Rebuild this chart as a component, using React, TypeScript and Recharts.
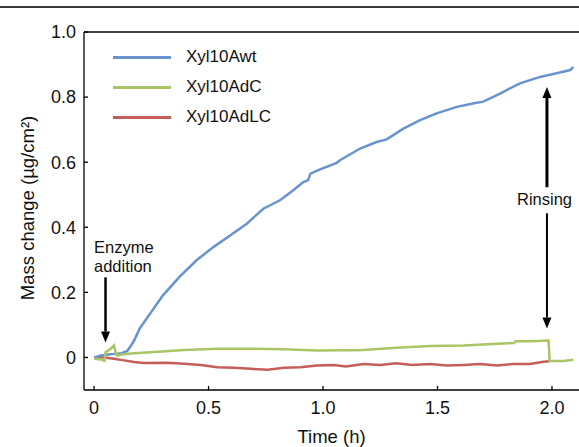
import { LineChart, Line, XAxis, YAxis, ReferenceLine, Legend } from "recharts";

// Xyl10Awt (blue)
const wtTime = [0, 0.03, 0.06, 0.09, 0.12, 0.145, 0.16, 0.175, 0.2, 0.25, 0.3, 0.376, 0.45, 0.521, 0.594, 0.667, 0.739, 0.812, 0.87, 0.914, 0.935, 0.945, 0.987, 1.06, 1.074, 1.162, 1.234, 1.278, 1.351, 1.424, 1.496, 1.584, 1.66, 1.7, 1.773, 1.86, 1.948, 2.02, 2.08, 2.093];
const wtMass = [0, 0.006, 0.009, 0.011, 0.013, 0.02, 0.035, 0.052, 0.09, 0.14, 0.19, 0.25, 0.3, 0.339, 0.375, 0.411, 0.457, 0.483, 0.514, 0.539, 0.545, 0.565, 0.578, 0.598, 0.606, 0.642, 0.662, 0.67, 0.703, 0.729, 0.75, 0.77, 0.781, 0.786, 0.811, 0.842, 0.862, 0.873, 0.883, 0.893];

// Xyl10AdC (green)
const dcTime = [0, 0.03, 0.045, 0.05, 0.073, 0.087, 0.094, 0.1, 0.128, 0.175, 0.247, 0.393, 0.539, 0.685, 0.83, 0.975, 1.1, 1.176, 1.32, 1.467, 1.613, 1.76, 1.835, 1.84, 1.91, 1.985, 1.99, 2.05, 2.093];
const dcMass = [-0.004, -0.006, -0.01, 0.016, 0.027, 0.037, 0.016, 0.006, 0.01, 0.013, 0.016, 0.023, 0.027, 0.027, 0.025, 0.021, 0.022, 0.023, 0.03, 0.035, 0.037, 0.042, 0.044, 0.05, 0.05, 0.052, -0.011, -0.011, -0.007];

// Xyl10AdLC (red)
const dlcTime = [0, 0.044, 0.087, 0.131, 0.175, 0.218, 0.32, 0.393, 0.466, 0.539, 0.61, 0.685, 0.757, 0.83, 0.9, 0.975, 1.047, 1.1, 1.176, 1.25, 1.32, 1.39, 1.467, 1.54, 1.613, 1.686, 1.76, 1.83, 1.905, 1.962, 1.99];
const dlcMass = [0, 0, -0.004, -0.009, -0.014, -0.017, -0.016, -0.019, -0.023, -0.03, -0.032, -0.035, -0.038, -0.032, -0.03, -0.025, -0.023, -0.028, -0.02, -0.023, -0.018, -0.023, -0.02, -0.025, -0.023, -0.02, -0.025, -0.02, -0.02, -0.013, -0.012];

const xTicks = [0, 0.5, 1.0, 1.5, 2.0];
const yTicks = [0, 0.2, 0.4, 0.6, 0.8, 1.0];

// annotation arrows (data coords)
const enzymeAt = 0.05;
const rinseAt = 1.978;

const FONT = "'Liberation Sans', Arial, Helvetica, sans-serif";

const toPoints = (ts: number[], vs: number[]) => ts.map((t, i) => ({ t, v: vs[i] }));

const series = [
  { name: "Xyl10Awt", color: "#6893cf", data: toPoints(wtTime, wtMass) },
  { name: "Xyl10AdC", color: "#a9c565", data: toPoints(dcTime, dcMass) },
  { name: "Xyl10AdLC", color: "#c65e58", data: toPoints(dlcTime, dlcMass) },
];

const fmt = (v: number) => (v === 0 ? "0" : v.toFixed(1));

function arrow(width: number) {
  return (p: any) => {
    const { x1, y1, x2, y2 } = p;
    const dir = y2 > y1 ? 1 : -1;
    const head = 11;
    const half = 4.5;
    return (
      <g>
        <line x1={x1} y1={y1} x2={x2} y2={y2 - dir * head} stroke="#000" strokeWidth={width} />
        <polygon
          points={`${x2},${y2} ${x2 - half},${y2 - dir * head} ${x2 + half},${y2 - dir * head}`}
          fill="#000"
        />
      </g>
    );
  };
}

function LegendBox() {
  return (
    <div style={{ fontFamily: FONT, fontSize: 17, color: "#111" }}>
      {series.map((s) => (
        <div key={s.name} style={{ display: "flex", alignItems: "center", height: 30 }}>
          <span style={{ display: "inline-block", width: 58, height: 3, background: s.color, marginRight: 15 }} />
          <span>{s.name}</span>
        </div>
      ))}
    </div>
  );
}

export default function App() {
  const [wt, dc, dlc] = series;
  return (
    <div style={{ position: "absolute", left: 0, top: 0, width: 579, height: 447, background: "#fff", fontFamily: FONT }}>
      <div style={{ position: "absolute", left: 0, top: 6, width: 579, height: 2, background: "#3a3a3a" }} />
      <LineChart width={579} height={447} margin={{ top: 32, right: 0, bottom: 0, left: 0 }}>
        <XAxis
          dataKey="t"
          type="number"
          domain={[-0.044, 2.118]}
          ticks={xTicks}
          tickFormatter={fmt}
          height={57}
          tickSize={-4}
          tickMargin={15}
          stroke="#000"
          strokeWidth={1.3}
          tick={{ fontSize: 18, fill: "#111", fontFamily: FONT }}
          allowDataOverflow
          label={(p: any) => (
            <text
              x={p.viewBox.x + p.viewBox.width / 2}
              y={443}
              textAnchor="middle"
              fontSize={18.5}
              fill="#111"
              fontFamily={FONT}
            >
              Time (h)
            </text>
          )}
        />
        <YAxis
          type="number"
          domain={[-0.1, 1.0]}
          ticks={yTicks}
          tickFormatter={fmt}
          width={84}
          tickSize={-4}
          tickMargin={12}
          stroke="#000"
          strokeWidth={1.3}
          tick={{ fontSize: 18, fill: "#111", fontFamily: FONT }}
          allowDataOverflow
          label={(p: any) => {
            const cy = p.viewBox.y + p.viewBox.height / 2 - 3;
            return (
              <text
                x={27}
                y={cy}
                transform={`rotate(-90, 27, ${cy})`}
                textAnchor="middle"
                dominantBaseline="central"
                fontSize={18.5}
                fill="#111"
                fontFamily={FONT}
              >
                Mass change (µg/cm²)
              </text>
            );
          }}
        />
        <ReferenceLine y={1.0} stroke="#000" strokeWidth={1.3} />
        <Line data={dlc.data} dataKey="v" name={dlc.name} stroke={dlc.color} strokeWidth={2.5} dot={false} type="linear" isAnimationActive={false} />
        <Line data={wt.data} dataKey="v" name={wt.name} stroke={wt.color} strokeWidth={2.5} dot={false} type="linear" isAnimationActive={false} />
        <Line data={dc.data} dataKey="v" name={dc.name} stroke={dc.color} strokeWidth={2.5} dot={false} type="linear" isAnimationActive={false} />
        <ReferenceLine segment={[{ x: enzymeAt, y: 0.246 }, { x: enzymeAt, y: 0.046 }]} shape={arrow(2.5)} />
        <ReferenceLine segment={[{ x: rinseAt, y: 0.523 }, { x: rinseAt, y: 0.831 }]} shape={arrow(3)} />
        <ReferenceLine segment={[{ x: rinseAt, y: 0.443 }, { x: rinseAt, y: 0.089 }]} shape={arrow(2)} />
        <Legend
          layout="vertical"
          align="center"
          verticalAlign="middle"
          wrapperStyle={{ left: 113, top: 42, width: 200, height: 90 }}
          content={() => <LegendBox />}
        />
      </LineChart>
      <div style={{ position: "absolute", left: 94, top: 238, fontSize: 16.5, lineHeight: "19px", color: "#111" }}>
        Enzyme
        <br />
        addition
      </div>
      <div style={{ position: "absolute", left: 517, top: 190, fontSize: 16.5, lineHeight: "19px", color: "#111" }}>
        Rinsing
      </div>
    </div>
  );
}
